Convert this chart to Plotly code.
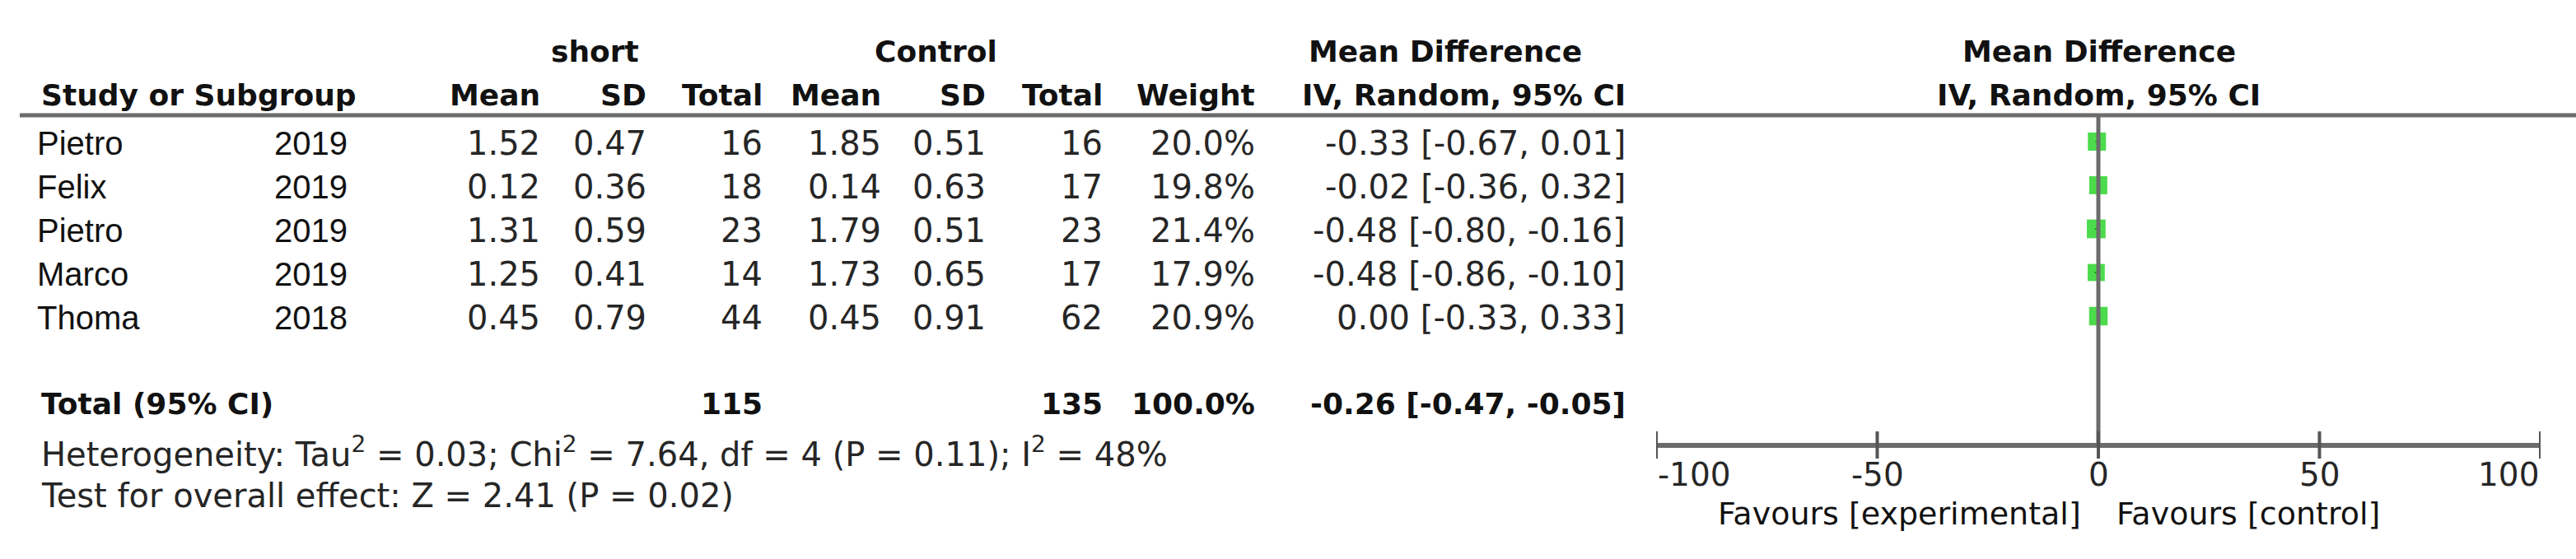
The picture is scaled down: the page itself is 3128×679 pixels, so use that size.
import plotly.graph_objects as go

# ---------------- data ----------------
authors = ["Pietro", "Felix", "Pietro", "Marco", "Thoma"]
years = ["2019", "2019", "2019", "2019", "2018"]
exp_mean = [1.52, 0.12, 1.31, 1.25, 0.45]
exp_sd = [0.47, 0.36, 0.59, 0.41, 0.79]
exp_n = [16, 18, 23, 14, 44]
ctl_mean = [1.85, 0.14, 1.79, 1.73, 0.45]
ctl_sd = [0.51, 0.63, 0.51, 0.65, 0.91]
ctl_n = [16, 17, 23, 17, 62]
weights = [20.0, 19.8, 21.4, 17.9, 20.9]
md = [-0.33, -0.02, -0.48, -0.48, 0.00]
ci_low = [-0.67, -0.36, -0.80, -0.86, -0.33]
ci_high = [0.01, 0.32, -0.16, -0.10, 0.33]

total_exp_n = 115
total_ctl_n = 135
total_weight = 100.0
total_md = -0.26
total_lo = -0.47
total_hi = -0.05

tau2, chi2, het_df, p_het, i2 = 0.03, 7.64, 4, 0.11, 48
z_val, p_overall = 2.41, 0.02

tick_vals = [-100, -50, 0, 50, 100]
label_left = "Favours [experimental]"
label_right = "Favours [control]"

# ---------------- layout helpers ----------------
W, H = 3128, 679
ROW0, STEP = 172.0, 53.0          # pixel row of first study, row spacing


def px(x):
    return x / W


def py(pix):
    return (pix - ROW0) / STEP


REG = "DejaVu Sans"
NAME = "Liberation Sans"
C_TXT = "#262626"
C_HEAD = "#111111"
C_LINE = "#6b6b6b"
GREEN = "#00cc00"

annotations = []


def txt(x, y, s, anchor="right", bold=False, size=None, family=None, color=None, yshift=-2):
    if size is None:
        size = 36 if bold else 40
    if family is None:
        family = REG
    if bold:
        s = "<b>" + s + "</b>"
    annotations.append(dict(
        x=px(x), y=y, xref="paper", yref="y", text=s, showarrow=False,
        xanchor=anchor, yanchor="middle", yshift=yshift,
        font=dict(family=family, size=size,
                  color=color or (C_HEAD if bold else C_TXT)),
    ))


# header rows
H1, H2 = py(60), py(113)
txt(722, H1, "short", "center", bold=True)
txt(1136, H1, "Control", "center", bold=True)
txt(1755, H1, "Mean Difference", "center", bold=True)
txt(48, H2, "Study or Subgroup", "left", bold=True)
txt(658, H2, "Mean", bold=True)
txt(787, H2, "SD", bold=True)
txt(928, H2, "Total", bold=True)
txt(1072, H2, "Mean", bold=True)
txt(1199, H2, "SD", bold=True)
txt(1341, H2, "Total", bold=True)
txt(1526, H2, "Weight", bold=True)
txt(1976, H2, "IV, Random, 95% CI", bold=True)

# study rows
for i in range(len(authors)):
    txt(43, i, authors[i], "left", family=NAME, color="#111111")
    txt(331, i, years[i], "left", family=NAME, color="#111111")
    txt(658, i, f"{exp_mean[i]:.2f}")
    txt(787, i, f"{exp_sd[i]:.2f}")
    txt(928, i, f"{exp_n[i]}")
    txt(1072, i, f"{ctl_mean[i]:.2f}")
    txt(1199, i, f"{ctl_sd[i]:.2f}")
    txt(1341, i, f"{ctl_n[i]}")
    txt(1526, i, f"{weights[i]:.1f}%")
    txt(1976, i, f"{md[i]:.2f} [{ci_low[i]:.2f}, {ci_high[i]:.2f}]")

# total row
TR = py(488)
txt(48, TR, "Total (95% CI)", "left", bold=True)
txt(928, TR, f"{total_exp_n}", bold=True)
txt(1341, TR, f"{total_ctl_n}", bold=True)
txt(1526, TR, f"{total_weight:.1f}%", bold=True)
txt(1976, TR, f"{total_md:.2f} [{total_lo:.2f}, {total_hi:.2f}]", bold=True)

txt(48, py(547), f"Heterogeneity: Tau<sup>2</sup> = {tau2:.2f}; Chi<sup>2</sup> = {chi2:.2f}, "
    f"df = {het_df} (P = {p_het:.2f}); I<sup>2</sup> = {i2}%", "left")
txt(48, py(600), f"Test for overall effect: Z = {z_val:.2f} (P = {p_overall:.2f})", "left")

# right-side header
txt(2549, H1, "Mean Difference", "center", bold=True)
txt(2548, H2, "IV, Random, 95% CI", "center", bold=True)

# forest axis tick labels and favours labels
AX_Y = py(541)
for k, t in enumerate(tick_vals):
    anchor = "left" if k == 0 else ("right" if k == len(tick_vals) - 1 else "center")
    annotations.append(dict(x=t, y=py(574), xref="x", yref="y", text=f"{t:g}",
                            showarrow=False, xanchor=anchor, yanchor="middle", yshift=-2,
                            font=dict(family=REG, size=39, color=C_TXT)))
annotations.append(dict(x=0, y=py(622), xref="x", yref="y", text=label_left, showarrow=False,
                        xanchor="right", yanchor="middle", xshift=-19, yshift=-2,
                        font=dict(family=REG, size=38, color=C_HEAD)))
annotations.append(dict(x=0, y=py(622), xref="x", yref="y", text=label_right, showarrow=False,
                        xanchor="left", yanchor="middle", xshift=20, yshift=-2,
                        font=dict(family=REG, size=38, color=C_HEAD)))

# ---------------- shapes ----------------
shapes = [
    # header rule across the page
    dict(type="line", xref="paper", yref="y", x0=px(24), x1=1, y0=py(140), y1=py(140),
         line=dict(color=C_LINE, width=5)),
    # line of no effect
    dict(type="line", xref="x", yref="y", x0=0, x1=0, y0=py(140), y1=AX_Y,
         line=dict(color=C_LINE, width=5)),
    # forest axis
    dict(type="line", xref="x", yref="y", x0=tick_vals[0], x1=tick_vals[-1], y0=AX_Y, y1=AX_Y,
         line=dict(color=C_LINE, width=6)),
]
for t in tick_vals:
    shapes.append(dict(type="line", xref="x", yref="y", x0=t, x1=t, y0=py(524), y1=py(557),
                       line=dict(color="#555555", width=4)))

# ---------------- figure ----------------
fig = go.Figure()
fig.add_trace(go.Scatter(
    x=md, y=list(range(len(md))), mode="markers",
    marker=dict(symbol="square", color=GREEN,
                size=[22 * (w / 20.0) ** 0.5 for w in weights], line=dict(width=0)),
    error_x=dict(type="data", symmetric=False,
                 array=[h - m for h, m in zip(ci_high, md)],
                 arrayminus=[m - l for m, l in zip(md, ci_low)],
                 color="#333333", thickness=2, width=0),
    hoverinfo="skip", showlegend=False,
))

fig.update_layout(
    width=W, height=H, margin=dict(l=0, r=0, t=0, b=0),
    paper_bgcolor="white", plot_bgcolor="white",
    xaxis=dict(domain=[px(2011), px(3085)], range=[tick_vals[0], tick_vals[-1]],
               showgrid=False, zeroline=False, showticklabels=False, showline=False, ticks=""),
    yaxis=dict(domain=[0, 1], range=[py(H), py(0)], showgrid=False, zeroline=False,
               showticklabels=False, showline=False, ticks=""),
    annotations=annotations, shapes=shapes, showlegend=False,
)

fig.write_html("out.html", config={"displayModeBar": False},
               post_script="document.body.style.margin='0';document.body.style.overflow='hidden';")
